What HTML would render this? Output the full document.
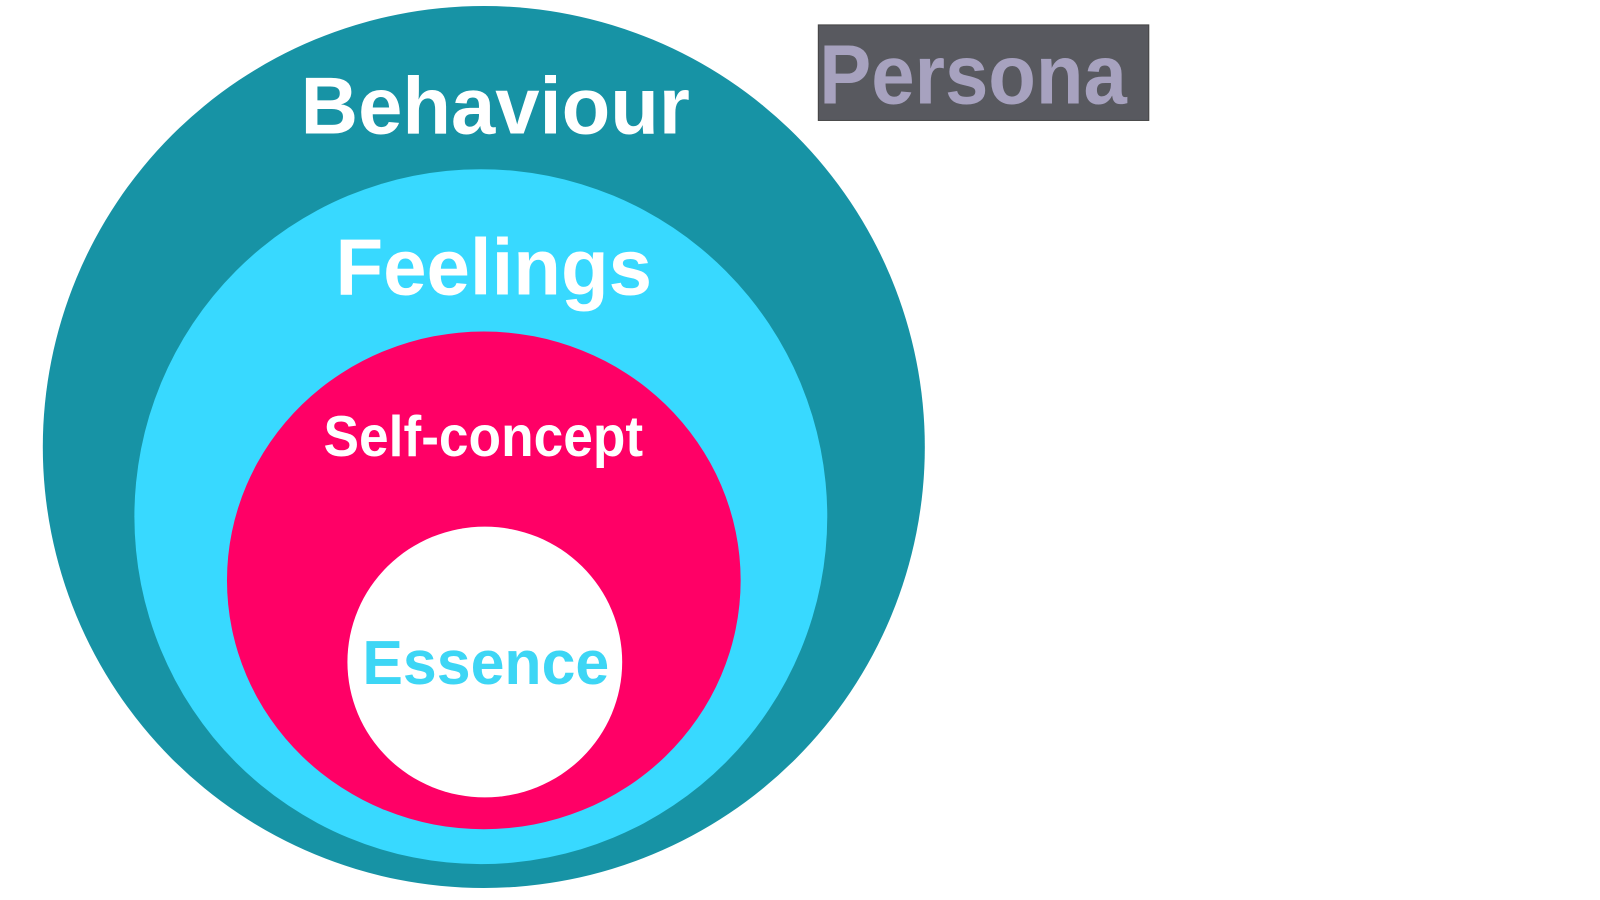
<!DOCTYPE html>
<html><head><meta charset="utf-8"><style>html,body{margin:0;padding:0;background:#fff}svg{display:block}</style></head>
<body>
<svg width="1600" height="900" viewBox="0 0 1600 900" xmlns="http://www.w3.org/2000/svg" font-family="'Liberation Sans', Arial, sans-serif" font-weight="bold">
<rect width="1600" height="900" fill="#fff"/>
<g transform="scale(0.9955)">
<ellipse cx="486" cy="449" rx="443" ry="443" fill="#1793a5"/>
<ellipse cx="483" cy="519" rx="348" ry="349" fill="#38d9ff"/>
<ellipse cx="486" cy="583" rx="258" ry="250" fill="#ff0066"/>
<ellipse cx="487" cy="665" rx="138" ry="136" fill="#ffffff"/>
<rect x="822" y="25" width="332" height="96" fill="#58595f" stroke="#444" stroke-width="1"/>
<text x="823" y="104" font-size="85" fill="#a7a2bf" textLength="309" lengthAdjust="spacingAndGlyphs">Persona</text>
<text x="302" y="134" font-size="81" fill="#fff" textLength="391" lengthAdjust="spacingAndGlyphs">Behaviour</text>
<text x="337" y="296" font-size="80" fill="#fff" textLength="318" lengthAdjust="spacingAndGlyphs">Feelings</text>
<text x="325" y="458" font-size="58" fill="#fff" textLength="321" lengthAdjust="spacingAndGlyphs">Self-concept</text>
<text x="364" y="687" font-size="62" fill="#3dd6f5" textLength="248" lengthAdjust="spacingAndGlyphs">Essence</text>
</g>
</svg>
</body></html>
